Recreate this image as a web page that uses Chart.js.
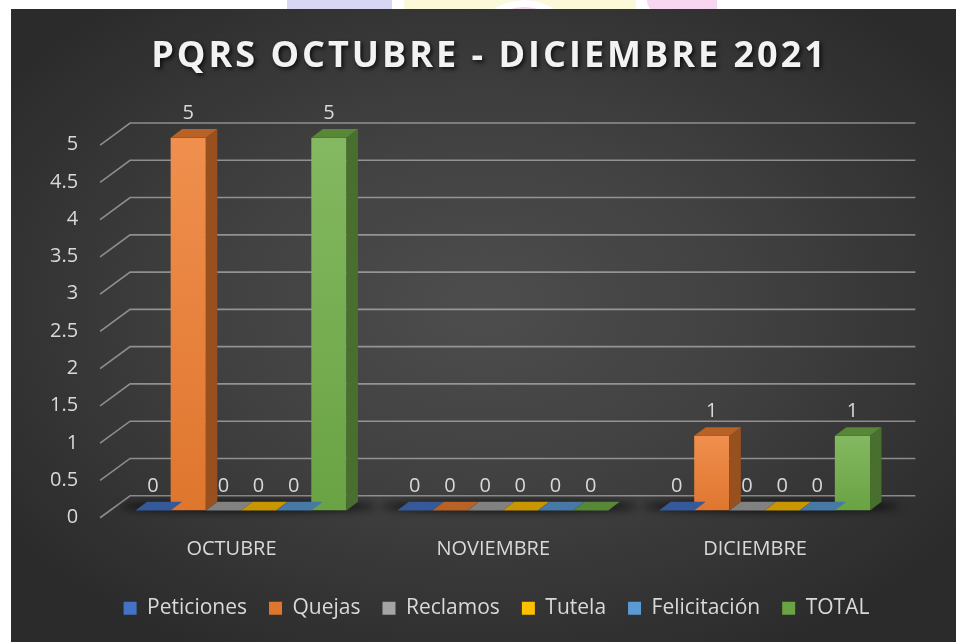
<!DOCTYPE html>
<html>
<head>
<meta charset="utf-8">
<script src="https://cdn.jsdelivr.net/npm/chart.js@4/dist/chart.umd.min.js"></script>
<style>
  html, body { margin: 0; padding: 0; background: #fff; width: 956px; height: 642px; overflow: hidden; }
  body { position: relative; }
  .deco { position: absolute; top: 0; height: 14px; }
  #panel {
    position: absolute; left: 11px; top: 9px; width: 945px; height: 633px;
    background: radial-gradient(ellipse 62% 62% at 50% 47%, #4d4d4d 0%, #414141 45%, #2b2b2b 100%);
  }
</style>
</head>
<body>
<div class="deco" style="left:287px;width:105px;background:#d7d7f4"></div>
<div class="deco" style="left:404px;width:232px;background:#fcf9d9"></div>
<div class="deco" style="left:468px;width:112px;height:110px;border-radius:50%;background:#f5d4ee;box-shadow:inset 0 0 0 7px #fff"></div>
<div class="deco" style="left:647px;width:70px;background:#f6d6f0;border-radius:0 0 0 30px"></div>
<div id="panel"><canvas id="chart" width="945" height="633"></canvas></div>
<script>
const titleText = 'PQRS OCTUBRE - DICIEMBRE 2021';
const months = ['OCTUBRE', 'NOVIEMBRE', 'DICIEMBRE'];
const seriesNames = ['Peticiones', 'Quejas', 'Reclamos', 'Tutela', 'Felicitación', 'TOTAL'];
const seriesColors = ['#4472c4', '#ed7d31', '#a5a5a5', '#ffc000', '#5b9bd5', '#70ad47'];

const peticiones = [0, 0, 0];
const quejas = [5, 0, 1];
const reclamos = [0, 0, 0];
const tutela = [0, 0, 0];
const felicitacion = [0, 0, 0];
const total = [5, 0, 1];

const yMax = 5;
const yStep = 0.5;

const FONT = '"Open Sans", "Noto Sans", sans-serif';
const TEXT = '#d9d9d9';

// 3d look: floor depth and bar depth
const WALL = { x: 30, y: -22 };
const BAR = { x: 11.5, y: -8.7 };

function shade(hex, amt) {
  const n = parseInt(hex.slice(1), 16);
  let r = n >> 16, g = (n >> 8) & 255, b = n & 255;
  const t = amt < 0 ? 0 : 255, p = Math.abs(amt);
  r = Math.round(r + (t - r) * p);
  g = Math.round(g + (t - g) * p);
  b = Math.round(b + (t - b) * p);
  return 'rgb(' + r + ',' + g + ',' + b + ')';
}

function frontFill(ctx) {
  const color = seriesColors[ctx.datasetIndex];
  if (ctx.type !== 'data') return color;
  const y = ctx.chart.scales.y;
  if (!y || !ctx.raw) return color;
  const top = y.getPixelForValue(ctx.raw);
  const base = y.getPixelForValue(0);
  if (!isFinite(top) || !isFinite(base) || base - top < 1) return color;
  const g = ctx.chart.ctx.createLinearGradient(0, top, 0, base);
  g.addColorStop(0, shade(color, 0.14));
  g.addColorStop(1, shade(color, -0.06));
  return g;
}

const seriesData = [peticiones, quejas, reclamos, tutela, felicitacion, total];

const wallPlugin = {
  id: 'wall3d',
  beforeDatasetsDraw(chart) {
    const { ctx, chartArea, scales } = chart;
    const y = scales.y;
    const fx = -WALL.x / 3, fy = -WALL.y / 3;
    const bx = WALL.x * 2 / 3, by = WALL.y * 2 / 3;
    ctx.save();
    ctx.strokeStyle = 'rgba(205,205,205,0.58)';
    ctx.lineWidth = 1.6;
    y.ticks.forEach(t => {
      const p = y.getPixelForValue(t.value);
      ctx.beginPath();
      ctx.moveTo(chartArea.left + fx, p + fy);
      ctx.lineTo(chartArea.left + bx, p + by);
      ctx.lineTo(chartArea.right + bx, p + by);
      ctx.stroke();
    });
    // floor shadows under each group
    const first = chart.getDatasetMeta(0).data;
    const last = chart.getDatasetMeta(seriesNames.length - 1).data;
    ctx.filter = 'blur(4px)';
    ctx.fillStyle = 'rgba(0,0,0,0.8)';
    first.forEach((el, i) => {
      const l = el.x - el.width / 2 - 16;
      const r = last[i].x + last[i].width / 2 + BAR.x + 18;
      ctx.beginPath();
      ctx.ellipse((l + r) / 2, el.base - 4, (r - l) / 2, 5, 0, 0, Math.PI * 2);
      ctx.fill();
    });
    ctx.restore();
  },
  afterDatasetsDraw(chart) {
    const { ctx } = chart;
    ctx.save();
    chart.data.datasets.forEach((ds, di) => {
      const color = seriesColors[di];
      chart.getDatasetMeta(di).data.forEach(el => {
        const x0 = el.x - el.width / 2, x1 = el.x + el.width / 2;
        const top = el.y, base = el.base;
        if (base - top > 0.5) {
          ctx.fillStyle = shade(color, -0.36);
          ctx.beginPath();
          ctx.moveTo(x1, top);
          ctx.lineTo(x1 + BAR.x, top + BAR.y);
          ctx.lineTo(x1 + BAR.x, base + BAR.y);
          ctx.lineTo(x1, base);
          ctx.closePath();
          ctx.fill();
        }
        ctx.fillStyle = shade(color, -0.22);
        ctx.beginPath();
        ctx.moveTo(x0, top);
        ctx.lineTo(x1, top);
        ctx.lineTo(x1 + BAR.x, top + BAR.y);
        ctx.lineTo(x0 + BAR.x, top + BAR.y);
        ctx.closePath();
        ctx.fill();
      });
    });
    // value labels
    ctx.fillStyle = TEXT;
    ctx.font = '20px ' + FONT;
    ctx.textAlign = 'center';
    ctx.textBaseline = 'middle';
    chart.data.datasets.forEach((ds, di) => {
      chart.getDatasetMeta(di).data.forEach((el, i) => {
        ctx.fillText(String(ds.data[i]), el.x, el.y - 24.5);
      });
    });
    ctx.restore();
  },
  afterDraw(chart) {
    const { ctx } = chart;
    ctx.save();
    ctx.font = 'bold 36px ' + FONT;
    ctx.letterSpacing = '3px';
    ctx.textAlign = 'center';
    ctx.textBaseline = 'middle';
    ctx.shadowColor = 'rgba(0,0,0,0.75)';
    ctx.shadowOffsetX = 2;
    ctx.shadowOffsetY = 2;
    ctx.shadowBlur = 4;
    ctx.fillStyle = '#f2f2f2';
    ctx.fillText(titleText, chart.width / 2 + 6, 48);
    ctx.restore();
  }
};

new Chart(document.getElementById('chart'), {
  type: 'bar',
  data: {
    labels: months,
    datasets: seriesNames.map((name, i) => ({
      label: name,
      data: seriesData[i],
      backgroundColor: frontFill,
      borderWidth: 0,
      categoryPercentage: 0.806,
      barPercentage: 1
    }))
  },
  options: {
    responsive: false,
    animation: false,
    devicePixelRatio: 1,
    layout: { padding: { top: 128.7, left: 26, right: 0, bottom: 13.3 } },
    plugins: {
      tooltip: { enabled: false },
      legend: {
        position: 'bottom',
        labels: {
          color: TEXT,
          font: { family: FONT, size: 21 },
          boxWidth: 13,
          boxHeight: 13,
          padding: 22
        }
      }
    },
    scales: {
      x: {
        grid: { display: false, drawTicks: false },
        border: { display: false },
        ticks: { color: TEXT, font: { family: FONT, size: 20 }, padding: 27, labelOffset: -9.5 },
        afterFit(s) { s.height = 65.3; }
      },
      y: {
        min: 0,
        max: yMax,
        grid: { display: false, drawTicks: false },
        border: { display: false },
        ticks: {
          stepSize: yStep, color: TEXT, font: { family: FONT, size: 20 }, padding: 32, labelOffset: 7,
          callback: v => String(v)
        },
        afterFit(s) { s.width = 73.1; }
      },
      y2: {
        position: 'right',
        grid: { display: false, drawTicks: false },
        border: { display: false },
        ticks: { display: false },
        afterFit(s) { s.width = 60.6; }
      }
    }
  },
  plugins: [wallPlugin]
});
</script>
</body>
</html>
